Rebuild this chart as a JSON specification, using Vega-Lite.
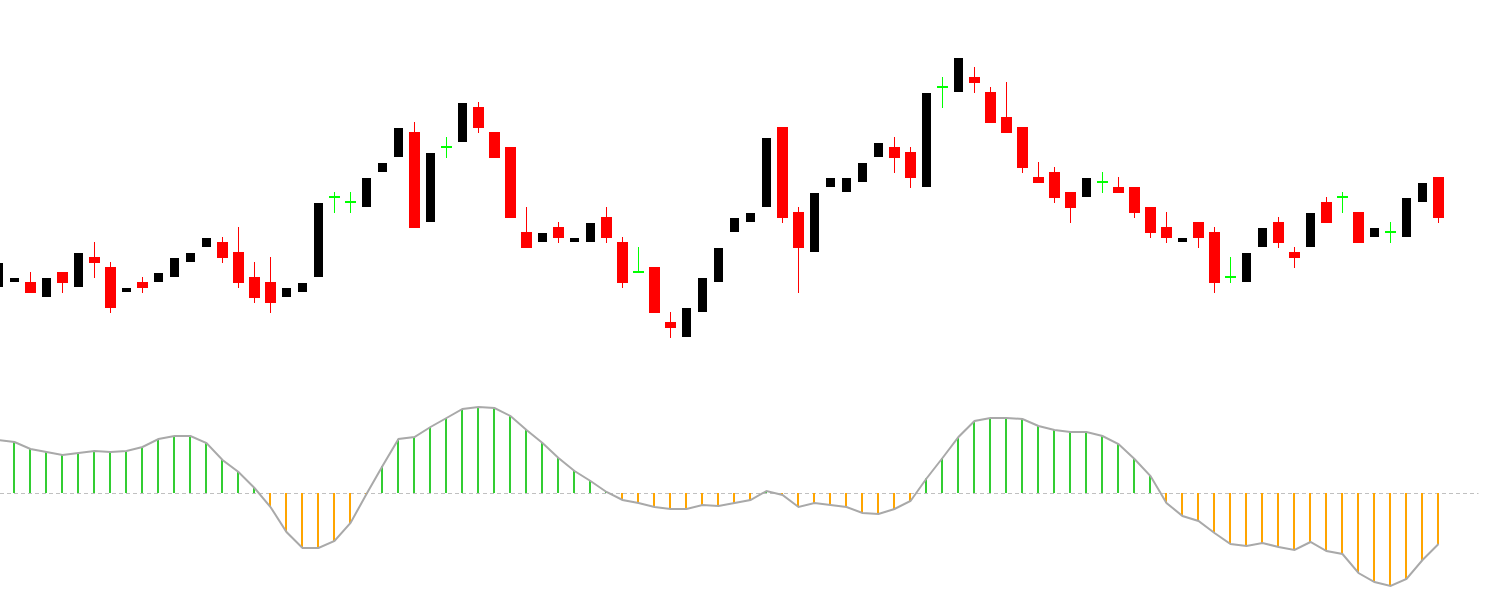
{
  "$schema": "https://vega.github.io/schema/vega-lite/v6.json",
  "width": 1499,
  "height": 614,
  "autosize": {"type": "fit", "contains": "padding"},
  "padding": 0,
  "background": "white",
  "config": {"view": {"stroke": null}, "scale": {"continuousPadding": 0}},
  "datasets": {
    "candles": [
      {"i":0,"o":327,"h":351,"l":327,"c":351},
      {"i":1,"o":332,"h":336,"l":332,"c":336},
      {"i":2,"o":332,"h":342,"l":321,"c":321},
      {"i":3,"o":317,"h":336,"l":317,"c":336},
      {"i":4,"o":342,"h":342,"l":321,"c":331},
      {"i":5,"o":327,"h":361,"l":327,"c":361},
      {"i":6,"o":357,"h":372,"l":336,"c":351},
      {"i":7,"o":347,"h":352,"l":301,"c":306},
      {"i":8,"o":322,"h":326,"l":322,"c":326},
      {"i":9,"o":332,"h":337,"l":321,"c":326},
      {"i":10,"o":332,"h":341,"l":332,"c":341},
      {"i":11,"o":337,"h":356,"l":337,"c":356},
      {"i":12,"o":352,"h":361,"l":352,"c":361},
      {"i":13,"o":367,"h":376,"l":367,"c":376},
      {"i":14,"o":372,"h":377,"l":351,"c":356},
      {"i":15,"o":362,"h":387,"l":326,"c":331},
      {"i":16,"o":337,"h":352,"l":311,"c":316},
      {"i":17,"o":332,"h":357,"l":301,"c":311},
      {"i":18,"o":317,"h":326,"l":317,"c":326},
      {"i":19,"o":322,"h":331,"l":322,"c":331},
      {"i":20,"o":337,"h":411,"l":337,"c":411},
      {"i":21,"o":417,"h":422,"l":401,"c":417},
      {"i":22,"o":412,"h":422,"l":401,"c":412},
      {"i":23,"o":407,"h":436,"l":407,"c":436},
      {"i":24,"o":442,"h":451,"l":442,"c":451},
      {"i":25,"o":457,"h":486,"l":457,"c":486},
      {"i":26,"o":482,"h":492,"l":386,"c":386},
      {"i":27,"o":392,"h":461,"l":392,"c":461},
      {"i":28,"o":467,"h":477,"l":456,"c":467},
      {"i":29,"o":472,"h":511,"l":472,"c":511},
      {"i":30,"o":507,"h":512,"l":481,"c":486},
      {"i":31,"o":482,"h":482,"l":456,"c":456},
      {"i":32,"o":467,"h":467,"l":396,"c":396},
      {"i":33,"o":382,"h":407,"l":366,"c":366},
      {"i":34,"o":372,"h":381,"l":372,"c":381},
      {"i":35,"o":387,"h":392,"l":371,"c":376},
      {"i":36,"o":372,"h":376,"l":372,"c":376},
      {"i":37,"o":372,"h":391,"l":372,"c":391},
      {"i":38,"o":397,"h":407,"l":371,"c":376},
      {"i":39,"o":372,"h":377,"l":326,"c":331},
      {"i":40,"o":342,"h":367,"l":342,"c":342},
      {"i":41,"o":347,"h":347,"l":301,"c":301},
      {"i":42,"o":292,"h":302,"l":276,"c":286},
      {"i":43,"o":277,"h":306,"l":277,"c":306},
      {"i":44,"o":302,"h":336,"l":302,"c":336},
      {"i":45,"o":332,"h":366,"l":332,"c":366},
      {"i":46,"o":382,"h":396,"l":382,"c":396},
      {"i":47,"o":392,"h":401,"l":392,"c":401},
      {"i":48,"o":407,"h":476,"l":407,"c":476},
      {"i":49,"o":487,"h":487,"l":391,"c":396},
      {"i":50,"o":402,"h":407,"l":321,"c":366},
      {"i":51,"o":362,"h":421,"l":362,"c":421},
      {"i":52,"o":427,"h":436,"l":427,"c":436},
      {"i":53,"o":422,"h":436,"l":422,"c":436},
      {"i":54,"o":432,"h":451,"l":432,"c":451},
      {"i":55,"o":457,"h":471,"l":457,"c":471},
      {"i":56,"o":467,"h":477,"l":441,"c":456},
      {"i":57,"o":462,"h":467,"l":426,"c":436},
      {"i":58,"o":427,"h":521,"l":427,"c":521},
      {"i":59,"o":527,"h":537,"l":506,"c":527},
      {"i":60,"o":522,"h":556,"l":522,"c":556},
      {"i":61,"o":537,"h":547,"l":521,"c":531},
      {"i":62,"o":522,"h":527,"l":491,"c":491},
      {"i":63,"o":497,"h":532,"l":481,"c":481},
      {"i":64,"o":487,"h":487,"l":441,"c":446},
      {"i":65,"o":437,"h":452,"l":431,"c":431},
      {"i":66,"o":442,"h":447,"l":411,"c":416},
      {"i":67,"o":422,"h":422,"l":391,"c":406},
      {"i":68,"o":417,"h":436,"l":417,"c":436},
      {"i":69,"o":432,"h":442,"l":421,"c":432},
      {"i":70,"o":427,"h":437,"l":421,"c":421},
      {"i":71,"o":427,"h":427,"l":396,"c":401},
      {"i":72,"o":407,"h":407,"l":376,"c":381},
      {"i":73,"o":387,"h":402,"l":371,"c":376},
      {"i":74,"o":372,"h":376,"l":372,"c":376},
      {"i":75,"o":392,"h":392,"l":366,"c":376},
      {"i":76,"o":382,"h":387,"l":321,"c":331},
      {"i":77,"o":337,"h":357,"l":331,"c":337},
      {"i":78,"o":332,"h":361,"l":332,"c":361},
      {"i":79,"o":367,"h":386,"l":367,"c":386},
      {"i":80,"o":392,"h":397,"l":366,"c":371},
      {"i":81,"o":362,"h":367,"l":346,"c":356},
      {"i":82,"o":367,"h":401,"l":367,"c":401},
      {"i":83,"o":412,"h":417,"l":391,"c":391},
      {"i":84,"o":417,"h":422,"l":401,"c":417},
      {"i":85,"o":402,"h":402,"l":371,"c":371},
      {"i":86,"o":377,"h":386,"l":377,"c":386},
      {"i":87,"o":382,"h":392,"l":371,"c":382},
      {"i":88,"o":377,"h":416,"l":377,"c":416},
      {"i":89,"o":412,"h":431,"l":412,"c":431},
      {"i":90,"o":437,"h":437,"l":391,"c":396}
    ],
    "osc": [
      {"i":0,"v":53},{"i":1,"v":51},{"i":2,"v":44},{"i":3,"v":41},{"i":4,"v":38},
      {"i":5,"v":40},{"i":6,"v":42},{"i":7,"v":41},{"i":8,"v":42},{"i":9,"v":46},
      {"i":10,"v":54},{"i":11,"v":57},{"i":12,"v":57},{"i":13,"v":50},{"i":14,"v":33},
      {"i":15,"v":21},{"i":16,"v":5},{"i":17,"v":-14},{"i":18,"v":-39},{"i":19,"v":-55},
      {"i":20,"v":-55},{"i":21,"v":-48},{"i":22,"v":-30},{"i":23,"v":-1},{"i":24,"v":27},
      {"i":25,"v":54},{"i":26,"v":56},{"i":27,"v":66},{"i":28,"v":75},{"i":29,"v":84},
      {"i":30,"v":86},{"i":31,"v":85},{"i":32,"v":77},{"i":33,"v":63},{"i":34,"v":50},
      {"i":35,"v":35},{"i":36,"v":22},{"i":37,"v":12},{"i":38,"v":1},{"i":39,"v":-7},
      {"i":40,"v":-10},{"i":41,"v":-14},{"i":42,"v":-16},{"i":43,"v":-16},{"i":44,"v":-12},
      {"i":45,"v":-13},{"i":46,"v":-10},{"i":47,"v":-7},{"i":48,"v":2},{"i":49,"v":-2},
      {"i":50,"v":-14},{"i":51,"v":-10},{"i":52,"v":-12},{"i":53,"v":-14},{"i":54,"v":-20},
      {"i":55,"v":-21},{"i":56,"v":-16},{"i":57,"v":-8},{"i":58,"v":14.5},{"i":59,"v":35},
      {"i":60,"v":56},{"i":61,"v":72},{"i":62,"v":75},{"i":63,"v":75},{"i":64,"v":74},
      {"i":65,"v":67},{"i":66,"v":63},{"i":67,"v":61},{"i":68,"v":61},{"i":69,"v":57},
      {"i":70,"v":49},{"i":71,"v":34},{"i":72,"v":17},{"i":73,"v":-10},{"i":74,"v":-23},
      {"i":75,"v":-28},{"i":76,"v":-40},{"i":77,"v":-51},{"i":78,"v":-53},{"i":79,"v":-50},
      {"i":80,"v":-54},{"i":81,"v":-57},{"i":82,"v":-49},{"i":83,"v":-58},{"i":84,"v":-61},
      {"i":85,"v":-80},{"i":86,"v":-89},{"i":87,"v":-93},{"i":88,"v":-86},{"i":89,"v":-67},
      {"i":90,"v":-51}
    ]
  },
  "resolve": {"scale": {"y": "independent"}},
  "layer": [
    {
      "data": {"values": [{}]},
      "mark": {"type": "rule", "color": "#c0c0c0", "strokeDash": [4, 3], "strokeWidth": 1, "yOffset": 0.5, "clip": true},
      "encoding": {
        "x": {"datum": 0.09375, "type": "quantitative", "scale": {"domain": [0.09375, 93.78125], "nice": false, "zero": false, "padding": 0}, "axis": null},
        "x2": {"datum": 92.5},
        "y": {"datum": 0, "type": "quantitative", "scale": {"domain": [-121, 493], "nice": false, "zero": false, "padding": 0}, "axis": null}
      }
    },
    {
      "data": {"name": "osc"},
      "mark": {"type": "rule", "strokeWidth": 2, "xOffset": -0.5, "clip": true},
      "encoding": {
        "x": {"field": "i", "type": "quantitative", "scale": {"domain": [0.09375, 93.78125], "nice": false, "zero": false, "padding": 0}, "axis": null},
        "y": {"field": "v", "type": "quantitative", "scale": {"domain": [-121, 493], "nice": false, "zero": false, "padding": 0}, "axis": null},
        "y2": {"datum": 0},
        "color": {"condition": {"test": "datum.v >= 0", "value": "#32cd32"}, "value": "#ffa500"}
      }
    },
    {
      "data": {"name": "osc"},
      "mark": {"type": "line", "color": "#a9a9a9", "strokeWidth": 2, "clip": true},
      "encoding": {
        "x": {"field": "i", "type": "quantitative", "scale": {"domain": [0.09375, 93.78125], "nice": false, "zero": false, "padding": 0}, "axis": null},
        "y": {"field": "v", "type": "quantitative", "scale": {"domain": [-121, 493], "nice": false, "zero": false, "padding": 0}, "axis": null}
      }
    },
    {
      "data": {"name": "candles"},
      "transform": [{"filter": "datum.c <= datum.o"}],
      "mark": {"type": "rule", "strokeWidth": 1, "clip": true},
      "encoding": {
        "x": {"field": "i", "type": "quantitative", "scale": {"domain": [0.09375, 93.78125], "nice": false, "zero": false, "padding": 0}, "axis": null},
        "y": {"field": "l", "type": "quantitative", "scale": {"domain": [0, 614], "nice": false, "zero": false, "padding": 0}, "axis": null},
        "y2": {"field": "h"},
        "color": {"condition": {"test": "datum.c < datum.o", "value": "#ff0000"}, "value": "#00ff00"}
      }
    },
    {
      "data": {"name": "candles"},
      "transform": [{"filter": "datum.c < datum.o"}],
      "mark": {"type": "bar", "width": 11, "color": "#ff0000", "clip": true},
      "encoding": {
        "x": {"field": "i", "type": "quantitative", "scale": {"domain": [0.09375, 93.78125], "nice": false, "zero": false, "padding": 0}, "axis": null},
        "y": {"field": "o", "type": "quantitative", "scale": {"domain": [0, 614], "nice": false, "zero": false, "padding": 0}, "axis": null},
        "y2": {"field": "c"}
      }
    },
    {
      "data": {"name": "candles"},
      "transform": [{"filter": "datum.c > datum.o"}],
      "mark": {"type": "bar", "width": 9, "color": "#000000", "clip": true},
      "encoding": {
        "x": {"field": "i", "type": "quantitative", "scale": {"domain": [0.09375, 93.78125], "nice": false, "zero": false, "padding": 0}, "axis": null},
        "y": {"field": "o", "type": "quantitative", "scale": {"domain": [0, 614], "nice": false, "zero": false, "padding": 0}, "axis": null},
        "y2": {"field": "c"}
      }
    },
    {
      "data": {"name": "candles"},
      "transform": [{"filter": "datum.c == datum.o"}],
      "mark": {"type": "tick", "orient": "horizontal", "size": 11, "thickness": 2, "color": "#00ff00", "opacity": 1, "clip": true},
      "encoding": {
        "x": {"field": "i", "type": "quantitative", "scale": {"domain": [0.09375, 93.78125], "nice": false, "zero": false, "padding": 0}, "axis": null},
        "y": {"field": "c", "type": "quantitative", "scale": {"domain": [0, 614], "nice": false, "zero": false, "padding": 0}, "axis": null}
      }
    }
  ]
}
